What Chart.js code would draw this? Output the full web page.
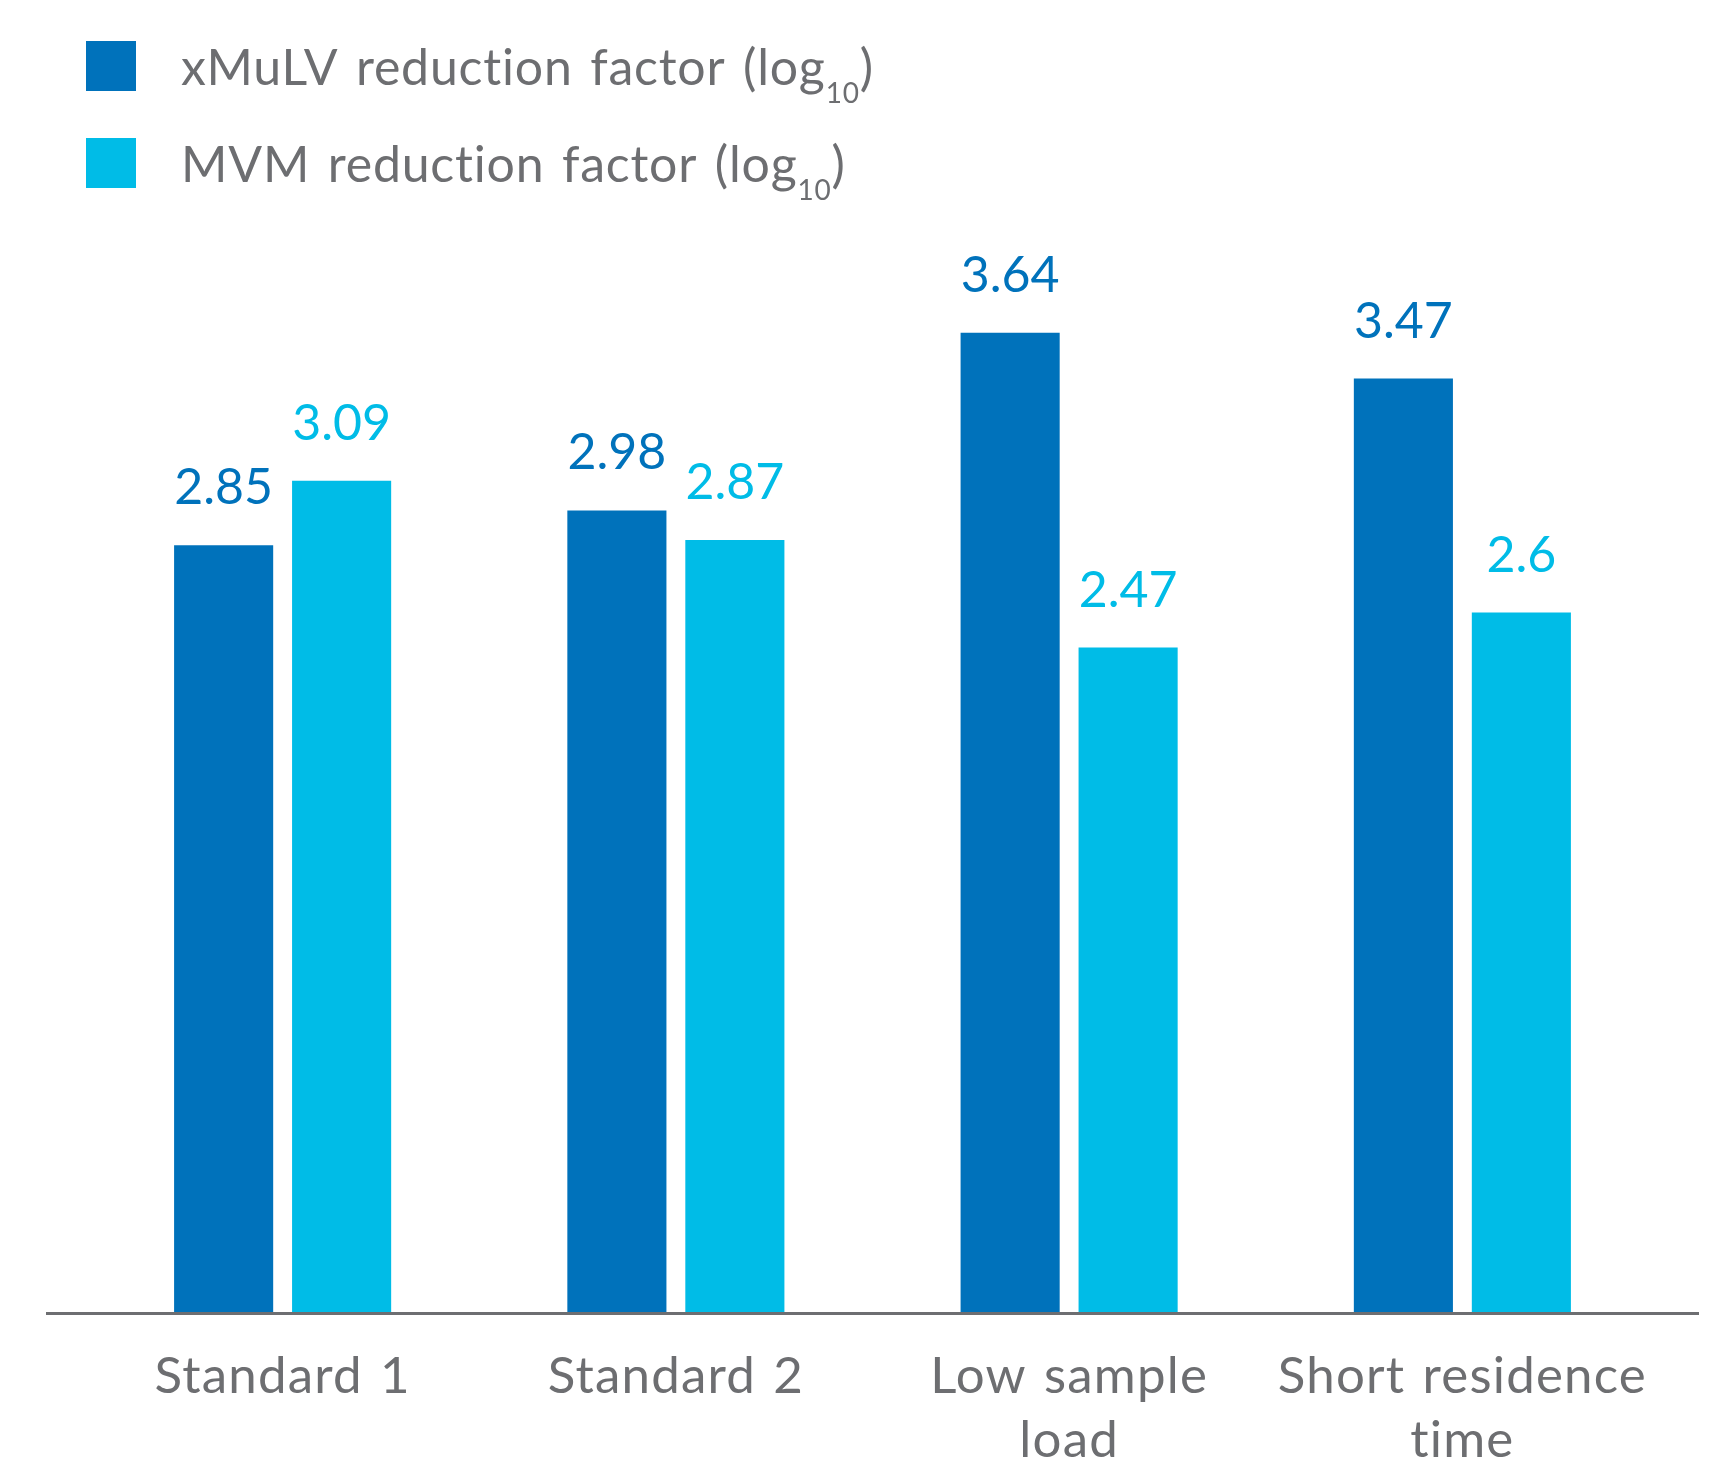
<!DOCTYPE html>
<html><head><meta charset="utf-8">
<script src="https://cdn.jsdelivr.net/npm/chart.js@4.4.1/dist/chart.umd.min.js"></script>
<style>html,body{margin:0;padding:0;background:#fff;overflow:hidden}#wrap{width:1723px;height:1458px;position:relative}</style>
</head><body><div id="wrap"><canvas id="c" width="1723" height="1458"></canvas></div>
<script>
const categories = [["Standard 1"], ["Standard 2"], ["Low sample", "load"], ["Short residence", "time"]];
const xmulvValues = [2.85, 2.98, 3.64, 3.47];
const mvmValues = [3.09, 2.87, 2.47, 2.6];
const seriesNames = ["xMuLV reduction factor (log", "MVM reduction factor (log"];
const seriesSubscript = "10";
const seriesColors = ["#0072BB", "#00BCE7"];
const textGray = "#6D6E71";
const FONT = "Lato, 'Open Sans', sans-serif";

const spacing = {
  id: 'spacing',
  beforeDraw(chart) {
    chart.ctx.wordSpacing = '3px';
    chart.ctx.letterSpacing = '1.2px';
  }
};

const overlay = {
  id: 'overlay',
  afterDatasetsDraw(chart) {
    const ctx = chart.ctx;
    ctx.save();
    // baseline
    ctx.strokeStyle = textGray;
    ctx.lineWidth = 3;
    ctx.beginPath();
    const yb = chart.scales.y.getPixelForValue(0) + 1.5;
    ctx.moveTo(46, yb); ctx.lineTo(1699, yb); ctx.stroke();
    // value labels
    ctx.wordSpacing = '0px';
    ctx.letterSpacing = '0px';
    ctx.font = "50px " + FONT;
    ctx.textAlign = 'center';
    ctx.textBaseline = 'alphabetic';
    chart.data.datasets.forEach((ds, di) => {
      const meta = chart.getDatasetMeta(di);
      ctx.fillStyle = ds.backgroundColor;
      meta.data.forEach((bar, i) => {
        ctx.fillText(String(ds.data[i]), bar.x, bar.y - 41);
      });
    });
    // legend
    ctx.textAlign = 'left';
    ctx.wordSpacing = '4px';
    ctx.letterSpacing = '0.8px';
    chart.data.datasets.forEach((ds, di) => {
      const top = 41 + di * 97;
      ctx.fillStyle = ds.backgroundColor;
      ctx.fillRect(86, top, 50, 50);
      ctx.fillStyle = textGray;
      ctx.font = "50px " + FONT;
      const base = 85 + di * 97;
      ctx.fillText(seriesNames[di], 181, base);
      let x = 181 + ctx.measureText(seriesNames[di]).width;
      ctx.font = "28px " + FONT;
      ctx.fillText(seriesSubscript, x, base + 18);
      x += ctx.measureText(seriesSubscript).width;
      ctx.font = "50px " + FONT;
      ctx.fillText(")", x, base);
    });
    ctx.restore();
  }
};

new Chart(document.getElementById('c'), {
  type: 'bar',
  data: {
    labels: categories,
    datasets: [
      { label: seriesNames[0] + seriesSubscript + ")", data: xmulvValues, backgroundColor: seriesColors[0], categoryPercentage: 0.6, barPercentage: 0.84 },
      { label: seriesNames[1] + seriesSubscript + ")", data: mvmValues, backgroundColor: seriesColors[1], categoryPercentage: 0.6, barPercentage: 0.84 }
    ]
  },
  options: {
    responsive: false,
    animation: false,
    devicePixelRatio: 1,
    layout: { padding: { left: 86, right: 64, top: 236, bottom: 0 } },
    plugins: { legend: { display: false }, tooltip: { enabled: false } },
    scales: {
      x: {
        grid: { display: false, drawTicks: false },
        border: { display: false },
        ticks: { color: textGray, font: { family: FONT, size: 51, lineHeight: 1.255 }, padding: 33, maxRotation: 0, autoSkip: false },
        afterFit(s) { s.height = 146; }
      },
      y: { display: false, min: 0, max: 4 }
    }
  },
  plugins: [spacing, overlay]
});
</script></body></html>
